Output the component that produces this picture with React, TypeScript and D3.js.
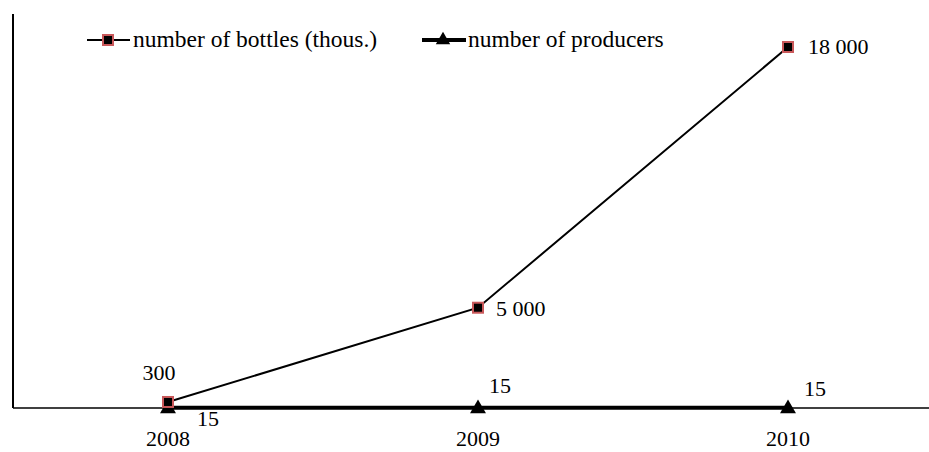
import React, { useEffect, useRef } from 'react';
import * as d3 from 'd3';

const years = ['2008', '2009', '2010'];
const bottles = [300, 5000, 18000];
const producers = [15, 15, 15];
const bottleLabels = ['300', '5 000', '18 000'];
const producerLabels = ['15', '15', '15'];

const W = 929;
const H = 452;
const FONT = "'Liberation Serif', 'DejaVu Serif', 'Times New Roman', serif";
const RED = '#c9585a';

function App() {
  const svgRef = useRef<SVGSVGElement | null>(null);

  useEffect(() => {
    const svg = d3.select(svgRef.current);
    svg.selectAll('*').remove();

    const x = d3.scaleBand().domain(years).range([13, 943]);
    const cx = (d: string) => (x(d) as number) + x.bandwidth() / 2;
    const y = d3.scaleLinear().domain([0, 18000]).range([408, 47]);

    // axes
    svg.append('line').attr('x1', 13).attr('x2', 13).attr('y1', 14).attr('y2', y(0))
      .attr('stroke', '#000').attr('stroke-width', 2);
    svg.append('line').attr('x1', 13).attr('x2', W).attr('y1', y(0)).attr('y2', y(0))
      .attr('stroke', '#000').attr('stroke-width', 1.5);

    svg.selectAll('.tick').data(years).enter().append('text')
      .attr('x', d => cx(d)).attr('y', 446)
      .attr('text-anchor', 'middle')
      .style('font-family', FONT).style('font-size', '22px')
      .text(d => d);

    // producers
    const prodLine = d3.line<number>().x((_, i) => cx(years[i])).y(d => y(d));
    svg.append('path').attr('d', prodLine(producers) as string)
      .attr('fill', 'none').attr('stroke', '#000').attr('stroke-width', 4);

    // bottles
    const botLine = d3.line<number>().x((_, i) => cx(years[i])).y(d => y(d));
    svg.append('path').attr('d', botLine(bottles) as string)
      .attr('fill', 'none').attr('stroke', '#000').attr('stroke-width', 2);

    const tri = d3.symbol().type(d3.symbolTriangle).size(110);
    svg.selectAll('.tri').data(producers).enter().append('path')
      .attr('d', tri() as string)
      .attr('transform', (d, i) => `translate(${cx(years[i])},${y(d) + 1})`)
      .attr('fill', '#000');

    svg.selectAll('.sq').data(bottles).enter().append('rect')
      .attr('x', (d, i) => cx(years[i]) - 5).attr('y', d => y(d) - 5)
      .attr('width', 10).attr('height', 10)
      .attr('fill', '#000').attr('stroke', RED).attr('stroke-width', 2);

    // data labels
    const botOff = [[-9, -22, 'middle'], [18, 8, 'start'], [20, 7, 'start']];
    svg.selectAll('.bl').data(bottleLabels).enter().append('text')
      .attr('x', (d, i) => cx(years[i]) + (botOff[i][0] as number))
      .attr('y', (d, i) => y(bottles[i]) + (botOff[i][1] as number))
      .attr('text-anchor', (d, i) => botOff[i][2] as string)
      .style('font-family', FONT).style('font-size', '22px')
      .text(d => d);

    const prodOff = [[40, 18], [22, -15], [27, -12]];
    svg.selectAll('.pl').data(producerLabels).enter().append('text')
      .attr('x', (d, i) => cx(years[i]) + prodOff[i][0])
      .attr('y', (d, i) => y(producers[i]) + prodOff[i][1])
      .attr('text-anchor', 'middle')
      .style('font-family', FONT).style('font-size', '22px')
      .text(d => d);

    // legend
    const lg = svg.append('g');
    lg.append('line').attr('x1', 87).attr('x2', 130).attr('y1', 40).attr('y2', 40)
      .attr('stroke', '#000').attr('stroke-width', 2);
    lg.append('rect').attr('x', 103).attr('y', 35).attr('width', 10).attr('height', 10)
      .attr('fill', '#000').attr('stroke', RED).attr('stroke-width', 2);
    lg.append('text').attr('x', 133).attr('y', 47)
      .style('font-family', FONT).style('font-size', '23.5px')
      .text('number of bottles (thous.)');
    lg.append('line').attr('x1', 422).attr('x2', 466).attr('y1', 40).attr('y2', 40)
      .attr('stroke', '#000').attr('stroke-width', 4);
    lg.append('path').attr('d', d3.symbol().type(d3.symbolTriangle).size(90)() as string)
      .attr('transform', 'translate(443,40)').attr('fill', '#000');
    lg.append('text').attr('x', 468).attr('y', 47)
      .style('font-family', FONT).style('font-size', '23.5px')
      .text('number of producers');
  }, []);

  return (
    <svg ref={svgRef} width={W} height={H}
      style={{ position: 'absolute', left: 0, top: 0, background: '#fff' }}></svg>
  );
}

export default App;
